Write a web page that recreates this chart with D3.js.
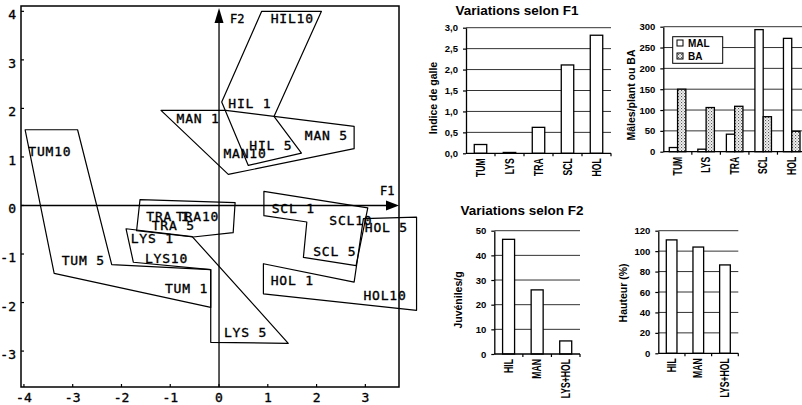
<!DOCTYPE html>
<html><head><meta charset="utf-8">
<script src="https://cdn.jsdelivr.net/npm/d3@7"></script>
<style>body{margin:0;background:#fff}svg{display:block}</style>
</head><body>
<svg id="c" width="802" height="405"></svg>
<script>
// ---------------- DATA ----------------
// Factorial map (F1 x F2)
const xTicks = [-4, -3, -2, -1, 0, 1, 2, 3];
const yTicks = [-3, -2, -1, 0, 1, 2, 3, 4];
const hilPoly = [[0.875, 4.0], [2.10, 4.0], [1.127, 1.835], [1.69, 1.08], [0.60, 0.825], [0.055, 2.13]];
const manPoly = [[-1.19, 1.96], [0.14, 1.96], [2.77, 1.63], [2.77, 1.17], [0.19, 0.64]];
const tumPoly = [[-3.975, 1.56], [-2.90, 1.56], [-2.20, -1.22], [-0.17, -1.32], [-0.17, -2.10], [-3.38, -1.40]];
const lysPoly = [[-1.906, -0.48], [-0.55, -0.64], [1.42, -2.84], [-0.17, -2.82], [-0.17, -1.32], [-1.756, -1.17]];
const traPoly = [[-1.62, 0.12], [0.33, 0.06], [0.29, -0.56], [-0.53, -0.65], [-1.69, -0.52]];
const sclPoly = [[0.92, 0.29], [3.05, -0.05], [2.81, -1.24], [1.73, -1.07], [1.80, -0.34], [0.92, -0.21]];
const holPoly = [[0.91, -1.20], [2.77, -1.58], [2.96, -0.27], [4.05, -0.24], [4.05, -2.16], [0.91, -1.82]];
const labelNames = ["HIL10", "HIL 1", "MAN 1", "MAN 5", "HIL 5", "MAN10", "TUM10", "SCL 1", "SCL10", "HOL 5",
  "TRA 1", "TRA10", "TRA 5", "LYS 1", "LYS10", "SCL 5", "TUM 5", "HOL 1", "TUM 1", "HOL10", "LYS 5"];
const labelX = [1.06, 0.19, -0.87, 1.76, 0.62, 0.09, -3.91, 1.08, 2.26, 2.99,
  -1.49, -0.88, -1.38, -1.81, -1.52, 1.93, -3.225, 1.06, -1.11, 2.96, 0.10];
const labelY = [3.77, 2.00, 1.69, 1.35, 1.14, 0.97, 1.02, -0.16, -0.40, -0.55,
  -0.33, -0.33, -0.50, -0.77, -1.19, -1.05, -1.23, -1.64, -1.80, -1.95, -2.72];

// Bar charts
const f1Cats = ["TUM", "LYS", "TRA", "SCL", "HOL"];
const galle = [0.21, 0.02, 0.62, 2.11, 2.82];
const galleTicks = [0, 0.5, 1.0, 1.5, 2.0, 2.5, 3.0];
const males = [10, 6, 42, 293, 272];
const ba = [150, 106, 109, 84, 49];
const malesTicks = [0, 50, 100, 150, 200, 250, 300];
const f2Cats = ["HIL", "MAN", "LYS+HOL"];
const juveniles = [46.5, 26, 5.3];
const juvTicks = [0, 10, 20, 30, 40, 50];
const hauteur = [111, 104, 86.5];
const hautTicks = [0, 20, 40, 60, 80, 100, 120];

// ---------------- DRAW ----------------
const svg = d3.select("#c");
const defs = svg.append("defs");
const pat = defs.append("pattern").attr("id", "dots").attr("patternUnits", "userSpaceOnUse")
  .attr("width", 3).attr("height", 3);
pat.append("rect").attr("width", 3).attr("height", 3).attr("fill", "#f2f2f2");
pat.append("rect").attr("x", 0).attr("y", 0).attr("width", 1.1).attr("height", 1.1).attr("fill", "#555");
pat.append("rect").attr("x", 1.5).attr("y", 1.5).attr("width", 1.1).attr("height", 1.1).attr("fill", "#888");

const mono = "'DejaVu Sans Mono', monospace";
const sans = "'Liberation Sans', Arial, sans-serif";

// ---- factorial map ----
const x = d3.scaleLinear().domain([-4.06, 3.69]).range([21, 399]);
const y = d3.scaleLinear().domain([-3.74, 4.11]).range([387, 6]);
const L = svg.append("g");
const [bx0, bx1] = x.range();
const [by0, by1] = y.range();
L.append("rect").attr("x", bx0).attr("y", by1).attr("width", bx1 - bx0).attr("height", by0 - by1)
  .attr("fill", "none").attr("stroke", "#000").attr("stroke-width", 1.5);

function monoText(sel) {
  return sel.attr("font-family", mono).attr("stroke", "#000").attr("stroke-width", 0.35);
}
xTicks.forEach(t => {
  L.append("line").attr("x1", x(t)).attr("x2", x(t)).attr("y1", by0).attr("y2", by0 - 3)
    .attr("stroke", "#000").attr("stroke-width", 1.2);
  monoText(L.append("text").attr("x", x(t)).attr("y", 402).attr("text-anchor", "middle"))
    .attr("font-size", 13).text(t < 0 ? "-" + Math.abs(t) : t);
});
yTicks.forEach(t => {
  L.append("line").attr("x1", bx0).attr("x2", bx0 + 3).attr("y1", y(t)).attr("y2", y(t))
    .attr("stroke", "#000").attr("stroke-width", 1.2);
  monoText(L.append("text").attr("x", 16).attr("y", y(t) + 8).attr("text-anchor", "end"))
    .attr("font-size", 13).text(t < 0 ? "-" + Math.abs(t) : t);
});

// F1 / F2 axes with arrows
const x0 = x(0), y0 = y(0);
L.append("line").attr("x1", bx0).attr("x2", bx1 - 12).attr("y1", y0).attr("y2", y0).attr("stroke", "#000").attr("stroke-width", 1.3);
L.append("path").attr("d", `M${bx1 - 13},${y0 - 5}L${bx1},${y0}L${bx1 - 13},${y0 + 5}Z`).attr("fill", "#000");
L.append("line").attr("x1", x0).attr("x2", x0).attr("y1", by0).attr("y2", 22).attr("stroke", "#000").attr("stroke-width", 1.3);
L.append("path").attr("d", `M${x0 - 4.5},${23}L${x0},${8}L${x0 + 4.5},${23}Z`).attr("fill", "#000");
monoText(L.append("text").attr("x", 380).attr("y", 195)).attr("font-size", 12).text("F1");
monoText(L.append("text").attr("x", 230).attr("y", 22.5)).attr("font-size", 12).text("F2");

const line = d3.line().x(d => x(d[0])).y(d => y(d[1])).curve(d3.curveLinearClosed);
[hilPoly, manPoly, tumPoly, lysPoly, traPoly, sclPoly, holPoly].forEach(p => {
  L.append("path").attr("d", line(p)).attr("fill", "none").attr("stroke", "#000").attr("stroke-width", 1.2)
    .attr("stroke-linejoin", "round");
});
labelNames.forEach((n, i) => {
  monoText(L.append("text").attr("x", x(labelX[i])).attr("y", y(labelY[i])))
    .attr("font-size", 13).attr("letter-spacing", "0.8px")
    .attr("xml:space", "preserve").style("white-space", "pre").text(n);
});

// ---- bar charts ----
const fmtComma = d3.formatLocale({ decimal: ",", thousands: " ", grouping: [3], currency: ["", ""] }).format(".1f");

function barChart(cfg) {
  const g = svg.append("g");
  const xb = d3.scaleBand().domain(cfg.cats).range([cfg.left, cfg.right]);
  const yb = d3.scaleLinear().domain([0, cfg.max]).range([cfg.bottom, cfg.top]);
  // grid
  cfg.ticks.filter(t => t > 0).forEach(t => {
    g.append("line").attr("x1", cfg.left).attr("x2", cfg.right).attr("y1", yb(t)).attr("y2", yb(t))
      .attr("stroke", "#333").attr("stroke-width", 1);
  });
  // bars
  const bw = xb.bandwidth() * cfg.barFrac;
  const ns = cfg.series.length;
  cfg.series.forEach((s, si) => {
    g.selectAll(null).data(s.values).enter().append("rect")
      .attr("x", (d, i) => xb(cfg.cats[i]) + xb.bandwidth() / 2 - bw * ns / 2 + si * bw)
      .attr("y", d => yb(d))
      .attr("width", bw)
      .attr("height", d => yb(0) - yb(d))
      .attr("fill", s.fill).attr("stroke", "#000").attr("stroke-width", 1.3);
  });
  // y axis
  const ax = g.append("g").attr("transform", `translate(${cfg.left},0)`)
    .call(d3.axisLeft(yb).tickValues(cfg.ticks).tickSize(3).tickSizeOuter(0).tickPadding(5).tickFormat(cfg.fmt));
  ax.select(".domain").attr("stroke", "#000").attr("stroke-width", 1.3);
  ax.selectAll(".tick line").attr("stroke", "#000").attr("stroke-width", 1.2);
  ax.selectAll(".tick text").attr("font-family", sans).attr("font-weight", "bold").attr("font-size", 9.5).attr("fill", "#000");
  // x axis
  g.append("line").attr("x1", cfg.left).attr("x2", cfg.right).attr("y1", yb(0)).attr("y2", yb(0))
    .attr("stroke", "#000").attr("stroke-width", 1.3);
  cfg.cats.forEach(c => {
    g.append("line").attr("x1", xb(c) + xb.bandwidth()).attr("x2", xb(c) + xb.bandwidth())
      .attr("y1", yb(0)).attr("y2", yb(0) + 3).attr("stroke", "#000").attr("stroke-width", 1.2);
    g.append("text").attr("transform", `translate(${xb(c) + xb.bandwidth() / 2 + 4},${yb(0) + 5}) rotate(-90) scale(0.72,1)`)
      .attr("text-anchor", "end").attr("font-family", sans).attr("font-weight", "bold").attr("font-size", 12).text(c);
  });
  // y label
  g.append("text").attr("transform", `translate(${cfg.ylabelX},${cfg.ylabelY}) rotate(-90)`)
    .attr("text-anchor", "middle").attr("dy", "0.35em").attr("font-family", sans).attr("font-weight", "bold")
    .attr("font-size", 10.5).text(cfg.ylabel);
  if (cfg.title) {
    g.append("text").attr("x", cfg.titleX).attr("y", cfg.titleY).attr("text-anchor", "middle")
      .attr("font-family", sans).attr("font-weight", "bold").attr("font-size", 13.5).text(cfg.title);
  }
  return { g, xb, yb };
}

barChart({
  left: 466, right: 611, bottom: 153.3, top: 27.7, max: 3, cats: f1Cats,
  series: [{ values: galle, fill: "#fff" }], barFrac: 0.43, ticks: galleTicks, fmt: fmtComma,
  ylabel: "Indice de galle", ylabelX: 433, ylabelY: 98,
  title: "Variations selon F1", titleX: 517, titleY: 15
});
barChart({
  left: 663.3, right: 806, bottom: 151.7, top: 26.7, max: 300, cats: f1Cats,
  series: [{ values: males, fill: "#fff" }, { values: ba, fill: "url(#dots)" }], barFrac: 0.29,
  ticks: malesTicks, fmt: d3.format("d"),
  ylabel: "Mâles/plant ou BA", ylabelX: 631, ylabelY: 95
});
barChart({
  left: 494.3, right: 580, bottom: 354, top: 230.7, max: 50, cats: f2Cats,
  series: [{ values: juveniles, fill: "#fff" }], barFrac: 0.42, ticks: juvTicks, fmt: d3.format("d"),
  ylabel: "Juvéniles/g", ylabelX: 458, ylabelY: 300,
  title: "Variations selon F2", titleX: 522, titleY: 215
});
barChart({
  left: 658.3, right: 738.3, bottom: 353.3, top: 230.7, max: 120, cats: f2Cats,
  series: [{ values: hauteur, fill: "#fff" }], barFrac: 0.4, ticks: hautTicks, fmt: d3.format("d"),
  ylabel: "Hauteur (%)", ylabelX: 623, ylabelY: 293
});

// legend for chart B
const lg = svg.append("g");
lg.append("rect").attr("x", 672.7).attr("y", 36.7).attr("width", 50).attr("height", 26.6)
  .attr("fill", "#fff").attr("stroke", "#000").attr("stroke-width", 1);
const legNames = ["MAL", "BA"];
const legFills = ["#fff", "url(#dots)"];
legNames.forEach((n, i) => {
  lg.append("rect").attr("x", 677).attr("y", 40 + i * 13).attr("width", 6).attr("height", 6)
    .attr("fill", legFills[i]).attr("stroke", "#000").attr("stroke-width", 1);
  lg.append("text").attr("x", 688).attr("y", 47 + i * 13).attr("font-family", sans).attr("font-weight", "bold")
    .attr("font-size", 10).text(n);
});
</script>
</body></html>
